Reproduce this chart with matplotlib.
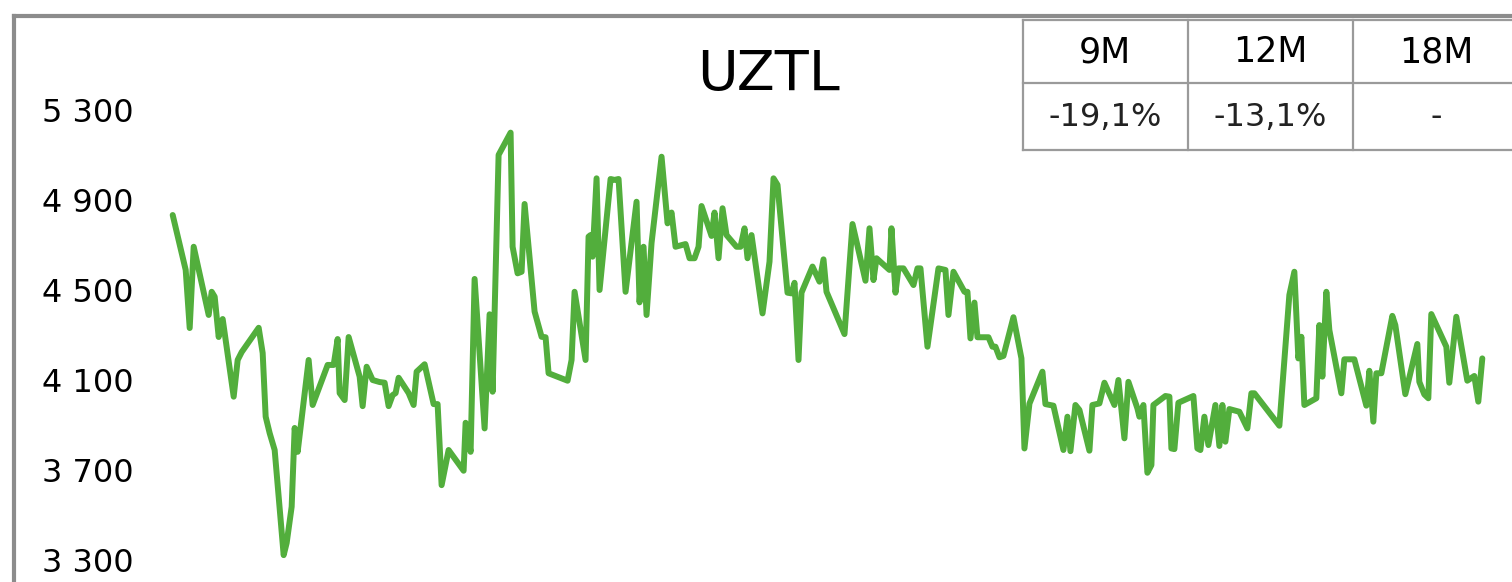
import matplotlib
matplotlib.use('Agg')
import matplotlib.pyplot as plt
from matplotlib.lines import Line2D
from matplotlib.ticker import FuncFormatter

# Dados (dia relativo e preço)
dias = [0, 13, 17, 21, 36, 39, 42, 46, 50, 61,
        65, 69, 86, 90, 93, 97, 102, 111, 114, 119,
        122, 125, 136, 140, 155, 161, 165, 167, 172, 176,
        187, 190, 194, 200, 207, 212, 216, 220, 223, 226,
        236, 241, 244, 252, 261, 265, 269, 276, 291, 293,
        298, 302, 312, 317, 320, 326, 338, 340, 345, 349,
        352, 362, 369, 373, 376, 395, 399, 402, 413, 416,
        418, 420, 424, 427, 438, 442, 446, 453, 464, 467,
        471, 474, 479, 489, 495, 499, 503, 513, 517, 522,
        526, 529, 539, 542, 546, 550, 554, 564, 568, 572,
        575, 579, 590, 597, 601, 605, 615, 619, 622, 626,
        629, 640, 647, 651, 654, 672, 680, 693, 697, 701,
        704, 717, 719, 723, 726, 731, 741, 745, 748, 755,
        766, 773, 776, 781, 792, 795, 798, 802, 805, 816,
        820, 823, 827, 831, 841, 849, 852, 857, 870, 873,
        881, 891, 895, 898, 903, 907, 917, 920, 927, 932,
        942, 946, 952, 956, 965, 967, 971, 975, 979, 981,
        993, 997, 999, 1002, 1006, 1021, 1025, 1028, 1032, 1036,
        1043, 1047, 1050, 1053, 1057, 1067, 1075, 1079, 1082, 1107,
        1117, 1122, 1126, 1129, 1132, 1144, 1147, 1150, 1154, 1157,
        1169, 1172, 1182, 1194, 1197, 1201, 1204, 1209, 1220, 1223,
        1233, 1245, 1247, 1252, 1256, 1259, 1274, 1277, 1284, 1295,
        1302, 1306, 1310]

precos = [4833, 4589, 4331, 4692, 4389, 4492, 4470, 4291, 4371, 4026,
          4189, 4224, 4332, 4220, 3937, 3864, 3789, 3322, 3376, 3537,
          3887, 3781, 4189, 3989, 4167, 4167, 4282, 4042, 4011, 4291,
          4115, 3984, 4159, 4100, 4091, 4088, 3984, 4033, 4042, 4110,
          4042, 3989, 4137, 4170, 3993, 3993, 3633, 3789, 3697, 3910,
          3781, 4549, 3885, 4392, 4048, 5100, 5199, 4692, 4574, 4581,
          4882, 4404, 4292, 4290, 4130, 4097, 4189, 4492, 4189, 4737,
          4744, 4648, 4996, 4500, 4993, 4989, 4993, 4492, 4892, 4445,
          4692, 4389, 4709, 5092, 4796, 4844, 4692, 4704, 4641, 4641,
          4692, 4873, 4740, 4844, 4641, 4863, 4744, 4692, 4692, 4774,
          4641, 4744, 4396, 4626, 4996, 4967, 4488, 4485, 4532, 4189,
          4488, 4604, 4537, 4636, 4492, 4304, 4793, 4541, 4774, 4544,
          4641, 4589, 4774, 4488, 4596, 4596, 4522, 4596, 4596, 4248,
          4596, 4589, 4389, 4581, 4492, 4492, 4285, 4444, 4290, 4290,
          4248, 4248, 4201, 4207, 4379, 4196, 3796, 3995, 4137, 3993,
          3986, 3789, 3937, 3784, 3989, 3967, 3786, 3989, 3996, 4088,
          3989, 4100, 3841, 4092, 3974, 3937, 3989, 3688, 3722, 3989,
          4029, 4026, 3796, 3793, 3999, 4029, 3796, 3789, 3937, 3811,
          3989, 3807, 3989, 3826, 3971, 3959, 3885, 4041, 4041, 3897,
          4478, 4581, 4196, 4292, 3989, 4019, 4344, 4115, 4492, 4322,
          4041, 4192, 4192, 3986, 4141, 3915, 4130, 4130, 4385, 4344,
          4037, 4260, 4092, 4036, 4019, 4393, 4248, 4088, 4381, 4097,
          4118, 4004, 4196]

ticks_y = [3300, 3700, 4100, 4500, 4900, 5300]
titulo = 'UZTL'
periodos = ['9M', '12M', '18M']
retornos = ['-19,1%', '-13,1%', '-']

W, H = 1512, 582
VERDE = '#52AE3C'
CINZA = '#8c8c8c'


def fx(px):
    return px / W


def fy(py):
    return 1 - py / H


fig = plt.figure(figsize=(W / 100, H / 100), dpi=100)
fig.patch.set_facecolor('white')

# Eixo principal
ax = fig.add_axes([fx(160), fy(570), fx(1495) - fx(160), fy(100) - fy(570)])
ax.plot(dias, precos, color=VERDE, lw=4.3, solid_joinstyle='round',
        solid_capstyle='round', clip_on=False)
ax.set_xlim(-12.7, 1322.7)
ax.set_ylim(3256, 5344)
ax.set_yticks(ticks_y)
ax.yaxis.set_major_formatter(FuncFormatter(lambda v, p: f'{int(v):,}'.replace(',', ' ')))
ax.set_xticks([])
ax.tick_params(axis='y', length=0, labelsize=23, pad=19)
for s in ax.spines.values():
    s.set_visible(False)

# Moldura cinza
fig.add_artist(Line2D([fx(14), fx(14)], [fy(16), fy(600)], color=CINZA, lw=3))
fig.add_artist(Line2D([fx(14), fx(1530)], [fy(16), fy(16)], color=CINZA, lw=3))

# Título
fig.text(fx(768), fy(75), titulo, ha='center', va='center', fontsize=40)

# Tabela de retornos
xs = [1022.7, 1187.7, 1353.3, 1519]
y_top, y_mid, y_bot = 19.5, 82.7, 150
cinza_tab = '#9a9a9a'
for x in xs:
    fig.add_artist(Line2D([fx(x), fx(x)], [fy(y_top), fy(y_bot)], color=cinza_tab, lw=1.6))
for y in (y_top, y_mid, y_bot):
    fig.add_artist(Line2D([fx(xs[0]), fx(1530)], [fy(y), fy(y)], color=cinza_tab, lw=1.6))
for i, (p, r) in enumerate(zip(periodos, retornos)):
    xc = (xs[i] + xs[i + 1]) / 2
    fig.text(fx(xc), fy((y_top + y_mid) / 2 + 1), p, ha='center', va='center', fontsize=25)
    fig.text(fx(xc), fy((y_mid + y_bot) / 2 + 1), r, ha='center', va='center', fontsize=23,
             color='#222222')

fig.savefig('out.png', dpi=100)
plt.close()
